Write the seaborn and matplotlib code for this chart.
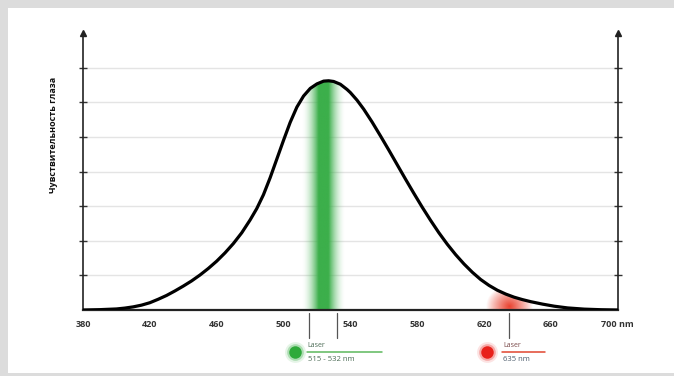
import numpy as np
import pandas as pd
import matplotlib
matplotlib.use('Agg')
import matplotlib.pyplot as plt
import seaborn as sns
from matplotlib.patches import Polygon, Rectangle

# dados da curva de sensibilidade do olho
comprimento = [380, 390, 400, 405, 410, 415, 420, 425, 430, 435, 440, 445, 450,
               455, 460, 465, 470, 475, 480, 484, 488, 492, 496, 500, 504, 508,
               512, 516, 520, 524, 527, 530, 534, 538, 540, 544, 548, 553, 558,
               563, 568, 573, 578, 583, 588, 593, 598, 603, 608, 613, 618, 623,
               628, 633, 638, 643, 648, 655, 662, 670, 680, 690, 700]
sensibilidade = [0.0, 0.01, 0.03, 0.055, 0.09, 0.14, 0.21, 0.31, 0.42, 0.55, 0.69,
                 0.84, 1.01, 1.2, 1.41, 1.65, 1.92, 2.23, 2.6, 2.93, 3.33, 3.82,
                 4.36, 4.9, 5.42, 5.86, 6.18, 6.4, 6.53, 6.61, 6.62, 6.6, 6.52,
                 6.37, 6.28, 6.06, 5.8, 5.43, 5.03, 4.62, 4.2, 3.78, 3.37, 2.97,
                 2.59, 2.23, 1.9, 1.6, 1.33, 1.09, 0.88, 0.71, 0.57, 0.46, 0.37,
                 0.3, 0.24, 0.17, 0.11, 0.06, 0.025, 0.008, 0.0]

xticks = [380, 420, 460, 500, 540, 580, 620, 660, 700]
xticklabels = ['380', '420', '460', '500', '540', '580', '620', '660', '700 nm']
yticks = [1, 2, 3, 4, 5, 6, 7]

laser_verde = [515, 532]
laser_vermelho = 635
ylabel = 'Чувствительность глаза'

sns.set_style('white')
plt.rcParams['font.family'] = ['Open Sans', 'DejaVu Sans']

df = pd.DataFrame({'nm': comprimento, 'sens': sensibilidade})

fig = plt.figure(figsize=(6.74, 3.76), dpi=100, facecolor='#dcdcdc')
fig.patches.append(Rectangle((8 / 674, 3 / 376), 1, 365 / 376,
                             transform=fig.transFigure, facecolor='white',
                             edgecolor='none', zorder=-10))
ax = fig.add_axes([83 / 674, 66 / 376, (617.7 - 83) / 674, 277 / 376])
ax.set_facecolor('none')

# grade horizontal
for y in yticks:
    ax.axhline(y, color='#e4e4e4', lw=1, zorder=0)

# contorno sob a curva para recortar os gradientes
verts = list(zip(comprimento, sensibilidade)) + [(700, 0), (380, 0)]
sob_curva = Polygon(verts, closed=True, facecolor='none', edgecolor='none')
ax.add_patch(sob_curva)

# faixa verde do laser 515-532 nm
centro = (laser_verde[0] + laser_verde[1]) / 2
xs = np.linspace(500, 548, 300)
d = np.abs(xs - centro)
alpha = np.clip(1 - (d - 3.0) / 10.0, 0, 1) ** 1.8
img = np.zeros((2, len(xs), 4))
img[..., 0] = 60 / 255
img[..., 1] = 175 / 255
img[..., 2] = 75 / 255
img[..., 3] = alpha
im = ax.imshow(img, extent=(500, 548, 0, 7), aspect='auto', origin='lower',
               interpolation='bilinear', zorder=1)
im.set_clip_path(sob_curva)

# mancha vermelha do laser 635 nm
gx, gy = np.meshgrid(np.linspace(612, 658, 200), np.linspace(0, 1.2, 120))
r = np.sqrt(((gx - laser_vermelho) / 14) ** 2 + ((gy - 0.1) / 0.6) ** 2)
img2 = np.zeros(gx.shape + (4,))
img2[..., 0] = 232 / 255
img2[..., 1] = 55 / 255
img2[..., 2] = 35 / 255
img2[..., 3] = np.clip(1 - r, 0, 1) ** 0.9 * 0.95
im2 = ax.imshow(img2, extent=(612, 658, 0, 1.2), aspect='auto', origin='lower',
                interpolation='bilinear', zorder=1)
im2.set_clip_path(sob_curva)

# curva
sns.lineplot(data=df, x='nm', y='sens', color='black', lw=2.3, ax=ax, zorder=3)

ax.set_xlim(380, 700)
ax.set_ylim(0, 8)
ax.set_xlabel('')
ax.set_ylabel('')

ax.spines['top'].set_visible(False)
for s in ['left', 'right', 'bottom']:
    ax.spines[s].set_color('#222222')
    ax.spines[s].set_linewidth(1.2)
ax.spines['bottom'].set_linewidth(1.6)

# setas no topo dos eixos verticais
ax.plot([380, 700], [8, 8], ls='none', marker='^', ms=5, color='#222222',
        clip_on=False, zorder=5)

ax.set_xticks(xticks)
ax.set_xticklabels(xticklabels, fontsize=6.5, color='#333333', fontweight='bold')
ax.set_yticks(yticks)
ax.set_yticklabels([])
ax.tick_params(axis='x', direction='inout', length=7, width=1, color='#333333', pad=4)
ax.tick_params(axis='y', direction='inout', length=6, width=1, color='#333333',
               left=True, right=True)

fig.text(53 / 674, 1 - 135 / 376, ylabel, rotation=90, ha='center', va='center',
         fontsize=6.5, fontweight='bold', color='#111111')

# anotações dos lasers abaixo do eixo
for x in laser_verde:
    ax.plot([x, x], [-0.08, -0.8], color='#555555', lw=0.9, clip_on=False)
ax.plot([laser_vermelho, laser_vermelho], [-0.08, -0.8], color='#555555', lw=0.9,
        clip_on=False)

for ms, a in [(15, 0.12), (12, 0.3), (9, 1.0)]:
    ax.plot([507], [-1.22], marker='o', ms=ms, color='#2eaa3a', alpha=a,
            mec='none', clip_on=False)
    ax.plot([622], [-1.22], marker='o', ms=ms, color='#e8201a', alpha=a,
            mec='none', clip_on=False)

ax.plot([514, 559], [-1.22, -1.22], color='#5cb85c', lw=1.1, clip_on=False)
ax.plot([631, 656.5], [-1.22, -1.22], color='#e0452f', lw=1.1, clip_on=False)

ax.text(514.5, -1.12, 'Laser', fontsize=5, color='#4b6b55', va='bottom', ha='left')
ax.text(514.5, -1.32, '515 - 532 nm', fontsize=5.5, color='#4b6b55', va='top', ha='left')
ax.text(631.5, -1.12, 'Laser', fontsize=5, color='#7a4a4a', va='bottom', ha='left')
ax.text(631.5, -1.32, '635 nm', fontsize=5.5, color='#4b5b6b', va='top', ha='left')

fig.savefig('out.png', dpi=100, facecolor=fig.get_facecolor())
